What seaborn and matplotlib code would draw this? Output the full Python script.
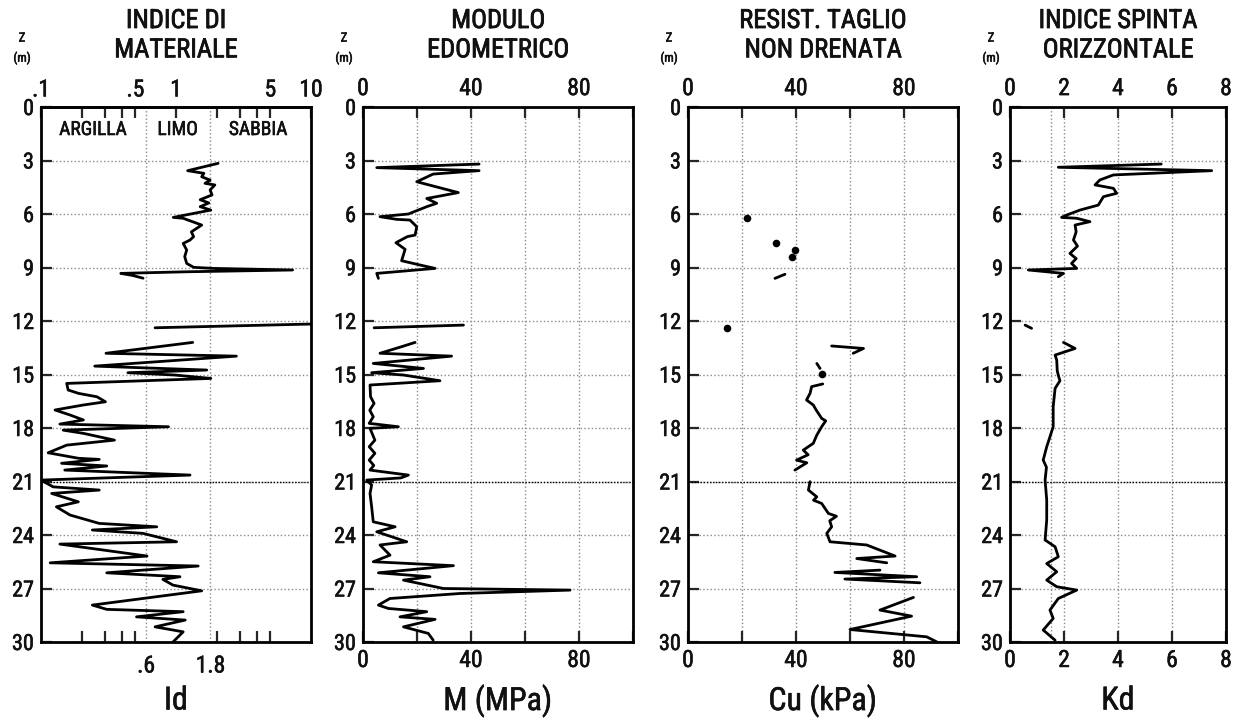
import numpy as np
import pandas as pd
import matplotlib
matplotlib.use("Agg")
import matplotlib.pyplot as plt
import matplotlib.patheffects as pe
import seaborn as sns
from matplotlib import font_manager as fm
from matplotlib.ticker import FixedLocator, FixedFormatter, NullLocator, NullFormatter

nan = np.nan

# ---------------- data ----------------
depth_ticks = list(range(0, 31, 3))

# Panel 1 : Id (material index)
id_depth = [3.16, 3.57, 3.72, 3.91, 4.10, 4.28, 4.37, 4.65, 4.93, 5.20, 5.38, 5.59, 5.78, 6.19, 6.24, 6.62,
            7.00, 7.27, 7.46, 7.65, 8.02, 8.39, 8.77, 8.99, 9.05, 9.14, 9.24, 9.33, 9.45, 9.60,
            nan, 12.17, 12.38,
            nan, 13.20, 13.81, 13.97, 14.53, 14.75, 14.90, 15.03, 15.22, 15.50, 15.87, 16.06, 16.25, 16.53,
            16.71, 16.99, 17.27, 17.55, 17.78, 17.93, 18.12, 18.30, 18.68, 18.96, 19.39, 19.70, 19.76,
            19.98, 20.13, 20.36, 20.64, 20.92, 21.30, 21.48, 21.67, 22.14, 22.42, 22.88, 23.35, 23.54,
            23.72, 23.91, 24.38, 24.51, 25.18, 25.56, 25.74, 26.12, 26.34, 26.49, 26.81, 27.13, 27.93,
            28.17, 28.30, 28.59, 28.77, 29.15, 29.43, 30.00]
id_value = [2.05, 1.22, 1.61, 1.55, 1.79, 1.64, 1.94, 1.79, 1.85, 1.51, 1.75, 1.51, 1.81, 0.955, 1.13, 1.55,
            1.30, 1.35, 1.27, 1.13, 1.20, 1.16, 1.20, 1.35, 1.89, 7.30, 1.20, 0.39, 0.48, 0.57,
            nan, 10.0, 0.70,
            nan, 1.33, 0.303, 2.80, 0.25, 1.69, 0.44, 0.98, 1.81, 0.155, 0.159, 0.19, 0.26, 0.30,
            0.206, 0.127, 0.164, 0.206, 0.138, 0.88, 0.146, 0.206, 0.35, 0.155, 0.113, 0.19, 0.27,
            0.142, 0.307, 0.15, 1.27, 0.10, 0.123, 0.27, 0.12, 0.189, 0.13, 0.164, 0.27, 0.72,
            0.24, 0.57, 1.01, 0.138, 0.61, 0.117, 1.46, 0.307, 1.07, 0.80, 0.95, 1.55, 0.24,
            0.307, 1.13, 0.51, 1.17, 0.70, 1.13, 0.95]

# Panel 2 : M (MPa)
m_depth = [3.20, 3.40, 3.57, 3.76, 4.19, 4.80, 5.13, 5.40, 5.59, 6.00, 6.15, 6.30, 6.34, 6.71, 7.18, 7.27,
           7.61, 7.98, 8.62, 8.86, 9.05, 9.33, 9.61,
           nan, 12.23, 12.38,
           nan, 13.20, 13.44, 13.81, 13.97, 14.38, 14.66, 14.90, 15.03, 15.35, 15.59, 16.25, 16.62, 17.00,
           17.37, 17.74, 17.93, 18.02, 18.68, 19.05, 19.42, 19.80, 20.10, 20.36, 20.64, 20.80, 20.92,
           21.20, 21.67, 22.42, 23.26, 23.54, 23.82, 24.38, 24.56, 25.13, 25.50, 25.72, 26.12, 26.34,
           26.53, 27.00, 27.09, 27.28, 27.56, 27.93, 28.12, 28.30, 28.59, 28.73, 29.15, 29.52, 29.90]
m_value = [43.0, 5.1, 43.0, 26.0, 19.9, 35.3, 23.6, 27.3, 23.6, 16.8, 6.3, 12.5, 17.4, 19.9, 19.3, 16.4,
           12.2, 15.6, 14.3, 21.1, 26.7, 5.1, 5.7,
           nan, 37.2, 4.1,
           nan, 19.3, 14.3, 6.3, 32.8, 3.8, 22.4, 3.2, 15.0, 28.5, 2.6, 2.8, 4.1, 2.5,
           3.8, 2.3, 13.1, 2.6, 4.4, 2.3, 4.4, 2.3, 4.0, 2.6, 16.8, 14.0, 1.4,
           3.2, 2.6, 3.2, 3.8, 11.9, 5.1, 16.2, 6.3, 10.0, 3.8, 33.5, 5.7, 24.8,
           15.0, 29.8, 76.7, 35.9, 10.0, 5.7, 9.4, 23.6, 13.7, 26.7, 15.0, 24.2, 26.0]

# Panel 3 : Cu (kPa)
cu_depth = [9.38, 9.61,
            nan, 13.40, 13.54, 13.81,
            nan, 14.38, 14.66,
            nan, 15.53, 15.68, 16.06, 16.43, 16.71, 17.00, 17.46, 17.60, 17.93, 18.40, 18.86, 19.24, 19.50,
            19.80, 19.95, 20.36,
            nan, 21.01, 21.48, 21.86, 22.05, 22.23, 22.79, 22.95, 23.20, 23.54, 23.91, 24.38, 24.56, 25.18,
            25.32, 25.56,
            nan, 25.97, 26.10, 26.34, 26.47, 26.68,
            nan, 27.50, 28.21, 28.55, 29.30, 29.71, 29.99]
cu_value = [35.9, 32.2,
            nan, 53.2, 65.0, 61.2,
            nan, 47.7, 48.9,
            nan, 49.9, 45.8, 45.2, 43.9, 46.4, 47.5, 49.5, 51.0, 49.5, 47.7, 46.4, 42.7, 44.5,
            40.2, 44.0, 39.6,
            nan, 45.2, 44.6, 47.7, 46.5, 49.5, 52.0, 55.0, 52.5, 53.2, 51.4, 52.6, 66.2, 76.7,
            62.5, 73.6,
            nan, 71.1, 54.4, 84.7, 58.1, 85.9,
            nan, 83.5, 71.1, 82.8, 60.0, 88.4, 92.1]
cu_dot_depth = [6.20, 7.63, 8.02, 8.39, 12.41, 14.98]
cu_dot_value = [21.7, 32.6, 39.6, 38.4, 14.6, 49.5]

# Panel 4 : Kd
kd_depth = [3.20, 3.38, 3.57, 3.81, 4.09, 4.37, 4.56, 4.84, 5.03, 5.50, 5.78, 6.06, 6.19, 6.24, 6.43, 6.62,
            7.00, 7.46, 7.80, 8.21, 8.50, 8.77, 9.05, 9.14, 9.33, 9.52,
            nan, 12.23, 12.41,
            nan, 13.20, 13.54, 13.91, 14.19, 14.80, 15.10, 15.35, 15.78, 16.80, 17.93, 19.05, 19.80, 20.20,
            20.92, 22.04, 23.16, 24.28, 24.66, 25.22, 25.60, 26.06, 26.53, 26.90, 27.09, 27.56, 28.21,
            28.68, 29.33, 29.90]
kd_value = [5.60, 1.79, 7.47, 3.83, 3.33, 3.15, 3.83, 3.95, 3.46, 3.27, 2.59, 2.10, 1.91, 2.47, 2.96, 2.41,
            2.45, 2.35, 2.50, 2.22, 2.45, 2.28, 2.47, 0.68, 1.98, 1.79,
            nan, 0.56, 0.80,
            nan, 1.98, 2.41, 1.67, 1.73, 1.75, 1.80, 1.85, 1.67, 1.60, 1.60, 1.36, 1.23, 1.35,
            1.30, 1.36, 1.36, 1.30, 1.67, 1.79, 1.36, 1.73, 1.36, 1.73, 2.47, 1.79, 1.48,
            1.60, 1.23, 1.67]

titles = ["INDICE DI\nMATERIALE", "MODULO\nEDOMETRICO", "RESIST. TAGLIO\nNON DRENATA", "INDICE SPINTA\nORIZZONTALE"]
xlabels = ["Id", "M (MPa)", "Cu (kPa)", "Kd"]
soil_labels = ["ARGILLA", "LIMO", "SABBIA"]
soil_label_x = [0.243, 1.03, 4.06]

# ---------------- style ----------------
sns.set_style("white")
avail = {f.name for f in fm.fontManager.ttflist}
fam = next((f for f in ["Liberation Sans Narrow", "Arial Narrow", "Roboto Condensed", "Liberation Sans"]
            if f in avail), "DejaVu Sans")
plt.rcParams["font.family"] = [fam, "DejaVu Sans"]
plt.rcParams["text.color"] = "#111111"

W, H = 1239, 721
fig = plt.figure(figsize=(W / 100, H / 100), dpi=100)
TOP, BOT = 107, 642
panel_px = [(41, 311), (363, 633), (688, 958), (1010, 1226)]
GRID = "#8a8a8a"
TICKC = "#111111"
THICK = [pe.withStroke(linewidth=0.55, foreground="#111111")]
SEMI = [pe.withStroke(linewidth=0.4, foreground="#111111")]


def make_df(depth, value):
    d = np.array(depth, float)
    v = np.array(value, float)
    seg = np.cumsum(np.isnan(d))
    ok = ~np.isnan(d)
    return pd.DataFrame({"depth": d[ok], "value": v[ok], "seg": seg[ok]})


axes = []
for (l, r) in panel_px:
    ax = fig.add_axes([l / W, (H - BOT) / H, (r - l) / W, (BOT - TOP) / H])
    axes.append(ax)


def common(ax):
    ax.set_ylim(30, 0)
    ax.set_yticks(depth_ticks)
    ax.set_yticklabels([str(t) for t in depth_ticks])
    ax.tick_params(axis="y", direction="in", length=8, width=1.6, left=True, right=False,
                   labelsize=16, pad=5, labelcolor=TICKC)
    ax.grid(True, which="major", ls=":", color=GRID, lw=1)
    ax.axhline(21, color="black", ls=(0, (1, 1.2)), lw=1, zorder=1)
    for s in ax.spines.values():
        s.set_linewidth(2)
        s.set_color("black")
    ax.set_xlabel("")
    ax.set_ylabel("")


datasets = [make_df(id_depth, id_value), make_df(m_depth, m_value),
            make_df(cu_depth, cu_value), make_df(kd_depth, kd_value)]

# Panel 1 (log)
ax = axes[0]
ax.set_xscale("log")
sns.lineplot(data=datasets[0], x="value", y="depth", units="seg", estimator=None, sort=False,
             color="black", lw=2, ax=ax, legend=False)
ax.set_xlim(0.1, 10)
common(ax)
ax.xaxis.set_major_locator(FixedLocator([0.6, 1.8]))
ax.xaxis.set_major_formatter(FixedFormatter([".6", "1.8"]))
ax.xaxis.set_minor_locator(FixedLocator([0.2, 0.3, 0.4, 0.5, 2, 3, 4, 5]))
ax.xaxis.set_minor_formatter(NullFormatter())
ax.tick_params(axis="x", which="major", length=0, bottom=True, top=False, labelsize=17, pad=9,
               labelcolor=TICKC)
ax.tick_params(axis="x", which="minor", direction="in", length=8, width=1.6, bottom=True, top=False)
sec = ax.secondary_xaxis("top")
sec.set_xticks([0.1, 0.2, 0.3, 0.4, 0.5, 1, 2, 3, 4, 5, 10])
sec.set_xticklabels([".1", "", "", "", ".5", "1", "", "", "", "5", "10"])
sec.xaxis.set_minor_locator(NullLocator())
sec.tick_params(direction="in", length=8, width=1.6, labelsize=17, pad=4, labelcolor=TICKC)
sec.spines["top"].set_linewidth(2)
for lab in sec.get_xticklabels():
    lab.set_path_effects(SEMI)
for lab, xv in zip(soil_labels, soil_label_x):
    ax.text(xv, 1.29, lab, ha="center", va="center", fontsize=14, path_effects=SEMI)

# Panels 2-4
for i in (1, 2, 3):
    ax = axes[i]
    sns.lineplot(data=datasets[i], x="value", y="depth", units="seg", estimator=None, sort=False,
                 color="black", lw=2, ax=ax, legend=False)
    if i == 2:
        sns.scatterplot(x=cu_dot_value, y=cu_dot_depth, color="black", s=30, edgecolor="black",
                        linewidth=0, ax=ax, zorder=5)
    common(ax)
    if i in (1, 2):
        ax.set_xlim(0, 100)
        ticks = [0, 20, 40, 60, 80, 100]
        labels = ["0", "", "40", "", "80", ""]
    else:
        ax.set_xlim(0, 8)
        ticks = [0, 2, 4, 6, 8]
        labels = ["0", "2", "4", "6", "8"]
        ax.axvline(1.5, ls=":", color=GRID, lw=1, zorder=0)
    ax.set_xticks(ticks)
    ax.set_xticklabels(labels)
    ax.tick_params(axis="x", direction="in", length=8, width=1.6, top=True, bottom=True,
                   labeltop=True, labelbottom=True, labelsize=17, pad=5, labelcolor=TICKC)

for ax in axes:
    for lab in ax.get_xticklabels() + ax.get_yticklabels():
        lab.set_path_effects(SEMI)

# texts
for (l, r), t, xl in zip(panel_px, titles, xlabels):
    cx = (l + r) / 2
    fig.text(cx / W, 1 - 9 / H, t, ha="center", va="top", fontsize=19, linespacing=1.28,
             path_effects=THICK)
    fig.text(cx / W, 1 - 701 / H, xl, ha="center", va="center", fontsize=23, path_effects=SEMI)
    fig.text((l - 19) / W, 1 - 38 / H, "Z", ha="center", va="center", fontsize=9, path_effects=SEMI)
    fig.text((l - 19) / W, 1 - 58 / H, "(m)", ha="center", va="center", fontsize=9, path_effects=SEMI)

fig.savefig("out.png", dpi=100)
